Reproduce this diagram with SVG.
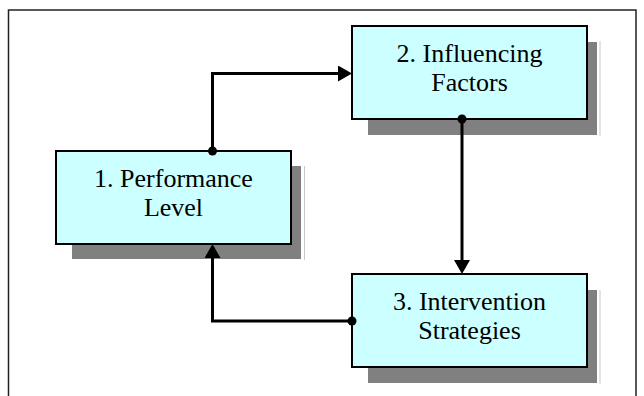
<svg xmlns="http://www.w3.org/2000/svg" width="644" height="396" viewBox="0 0 644 396">
  <style>
    .frame { fill: none; stroke: #222; stroke-width: 1.5; }
    .shadow { fill: #808080; }
    .edge { stroke: #c8c8c8; stroke-width: 1; }
    .box { fill: #ccffff; stroke: #000; stroke-width: 2; }
    .label { font-family: "Times New Roman", Times, "Liberation Serif", Tinos, "DejaVu Serif", "Noto Serif", serif; font-size: 26px; fill: #000; text-anchor: middle; }
    .conn { fill: none; stroke: #000; stroke-width: 3; stroke-linejoin: miter; }
  </style>
  <defs>
    <marker id="arrow" viewBox="0 0 14 16" markerWidth="14" markerHeight="16" refX="0" refY="8" orient="auto" markerUnits="userSpaceOnUse">
      <path d="M0,0 L14,8 L0,16 Z" fill="#000"/>
    </marker>
    <marker id="dot" viewBox="0 0 10 10" markerWidth="10" markerHeight="10" refX="5" refY="5" markerUnits="userSpaceOnUse">
      <circle cx="5" cy="5" r="4.5" fill="#000"/>
    </marker>
  </defs>
  <rect width="644" height="396" fill="#fff"/>
  <path class="frame" d="M8.5,400 V10 H636 V400"/>

  <g id="node1">
    <rect class="shadow" x="72" y="166" width="229" height="93"/>
    <line class="edge" x1="304.5" y1="166" x2="304.5" y2="260"/>
    <rect class="box" x="56" y="151" width="235" height="93"/>
    <text class="label" x="173.5" y="187">1. Performance</text>
    <text class="label" x="173.5" y="216">Level</text>
  </g>

  <g id="node2">
    <rect class="shadow" x="368" y="42" width="229" height="93"/>
    <line class="edge" x1="600" y1="41" x2="600" y2="136"/>
    <rect class="box" x="352" y="26" width="235" height="93"/>
    <text class="label" x="469.5" y="62">2. Influencing</text>
    <text class="label" x="469.5" y="91">Factors</text>
  </g>

  <g id="node3">
    <rect class="shadow" x="368" y="290" width="229" height="93"/>
    <line class="edge" x1="600" y1="290" x2="600" y2="384"/>
    <rect class="box" x="352" y="274" width="235" height="93"/>
    <text class="label" x="469.5" y="310">3. Intervention</text>
    <text class="label" x="469.5" y="339">Strategies</text>
  </g>

  <g id="connectors">
    <path class="conn" d="M212.5,151 V73.5 H338" marker-start="url(#dot)" marker-end="url(#arrow)"/>
    <path class="conn" d="M462,119 V260" marker-start="url(#dot)" marker-end="url(#arrow)"/>
    <path class="conn" d="M352,321 H212.5 V258" marker-start="url(#dot)" marker-end="url(#arrow)"/>
  </g>
</svg>
